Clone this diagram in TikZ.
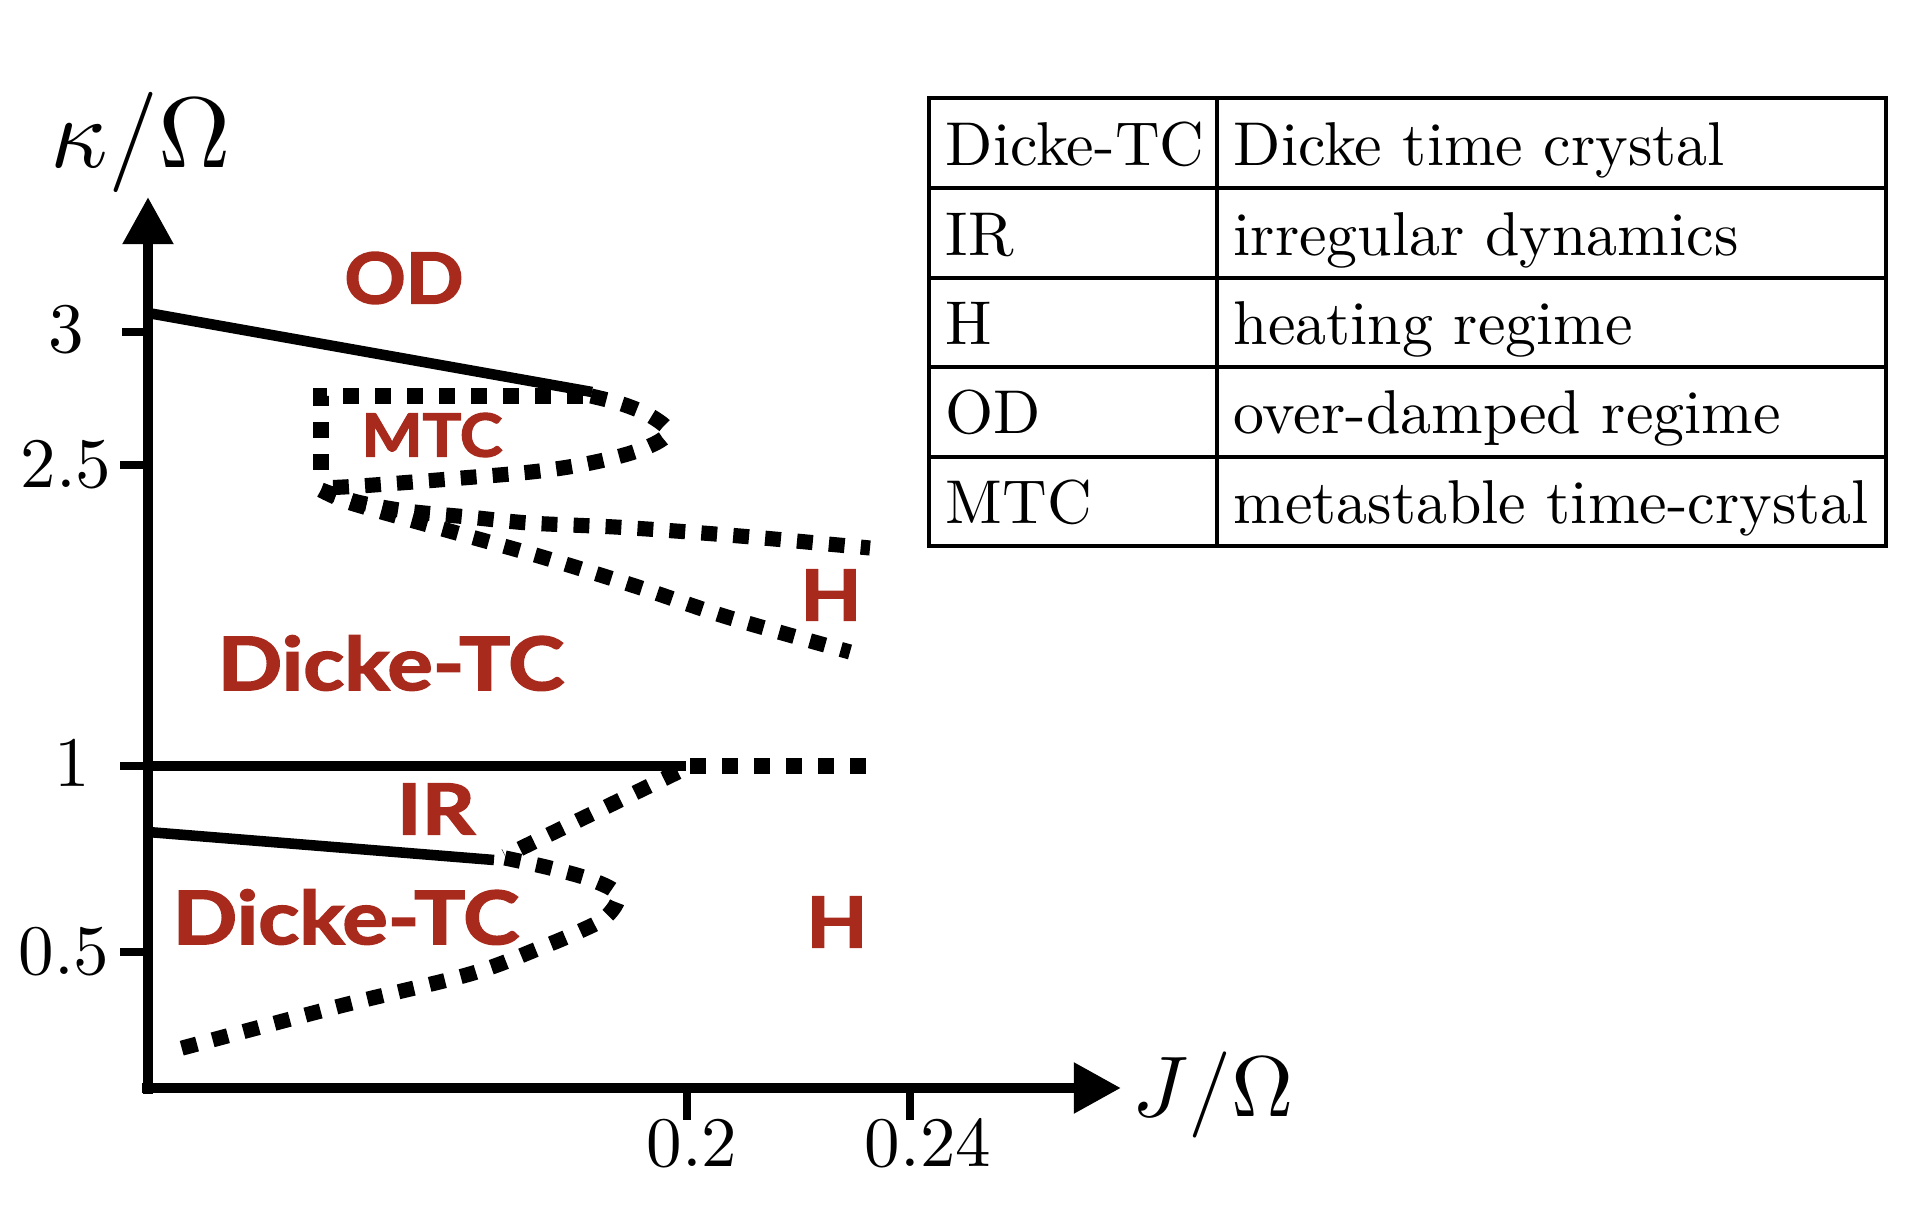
\RequirePackage{fix-cm}
\documentclass[tikz,border=0pt]{standalone}
\usepackage{fontspec}
\newfontfamily\labfont{Lato}[BoldFeatures={FakeBold=2}]
\newfontfamily\tenfont{lmroman10-regular}[Extension=.otf]
\usetikzlibrary{arrows.meta}
\definecolor{phred}{RGB}{168,42,29}
\tikzset{
  axisln/.style={line width=3.1pt,-{Triangle[length=13.4pt,width=13.7pt]}},
  tickln/.style={line width=2.4pt},
  solidb/.style={line width=3pt},
  dotln/.style={line width=4.3pt,dash pattern=on 4.5pt off 4.6pt},
  phase/.style={text=phred,font=\labfont\bfseries\fontsize{20}{24}\selectfont,inner sep=0pt},
  ticklab/.style={font=\fontsize{10}{12}\selectfont,inner sep=0pt},
  axlab/.style={font=\fontsize{10}{12}\selectfont,inner sep=0pt},
  tabtxt/.style={font=\tenfont\fontsize{10}{12}\selectfont,inner sep=0pt,anchor=base west},
  tabln/.style={line width=0.9pt}
}
\newcommand{\tabsc}[1]{\scalebox{1.76}{#1}}
\newcommand{\ticksc}[1]{\scalebox{2.02}{#1}}
\begin{document}
\begin{tikzpicture}[x=0.01cm,y=-0.01cm]
\useasboundingbox (0,0) rectangle (1930,1210);
% axes
\coordinate (origin) at (148,1094);
\coordinate (ytip) at (148,197);
\coordinate (xstart) at (142,1088);
\coordinate (xtip) at (1121,1088);
\draw[axisln] (origin) -- (ytip);
\draw[axisln] (xstart) -- (xtip);
% y ticks
\coordinate (t3a) at (122,332); \coordinate (t3b) at (148,332);
\coordinate (t25a) at (120,465); \coordinate (t25b) at (148,465);
\coordinate (t1a) at (120,766); \coordinate (t1b) at (148,766);
\coordinate (t05a) at (120,952); \coordinate (t05b) at (148,952);
\draw[tickln] (t3a) -- (t3b);
\draw[tickln] (t25a) -- (t25b);
\draw[tickln] (t1a) -- (t1b);
\draw[tickln] (t05a) -- (t05b);
% x ticks
\coordinate (x2a) at (687,1088); \coordinate (x2b) at (687,1120);
\coordinate (x24a) at (910,1088); \coordinate (x24b) at (910,1120);
\draw[tickln] (x2a) -- (x2b);
\draw[tickln] (x24a) -- (x24b);
% tick labels
\node[ticklab] (l3) at (66,330) {\ticksc{$3$}};
\node[ticklab] (l25) at (66,465) {\ticksc{$2.5$}};
\node[ticklab] (l1) at (72,764) {\ticksc{$1$}};
\node[ticklab] (l05) at (64,952) {\ticksc{$0.5$}};
\node[ticklab] (l02) at (692,1144) {\ticksc{$0.2$}};
\node[ticklab] (l024) at (928,1144) {\ticksc{$0.24$}};
% axis labels
\node[axlab] (ylab) at (141,142) {\scalebox{2.85}{$\kappa/\Omega$}};
\node[axlab] (xlab) at (1213,1095) {\scalebox{2.45}{$J/\Omega$}};
% solid boundaries
\coordinate (od1) at (148,313); \coordinate (od2) at (592,392);
\draw[solidb] (od1) -- (od2);
\coordinate (k1a) at (148,766); \coordinate (k1b) at (686,766);
\draw[solidb] (k1a) -- (k1b);
\coordinate (ir1) at (148,832); \coordinate (ir2) at (494,860);
\draw[solidb] (ir1) -- (ir2);
% dotted boundaries
\draw[dotln] (321,470) -- (321,396) -- (591,396);
\draw[dotln] plot[smooth,tension=0.6] coordinates {(591,396) (625,405) (654,418) (668,433) (645,448) (600,461) (540,471) (450,479) (360,486) (321,488)};
\draw[dotln] plot[smooth,tension=0.5] coordinates {(321,490) (357,502) (406,511) (468,517) (529,523) (615,527) (689,532) (763,538) (870,548)};
\draw[dotln] plot[smooth,tension=0.5] coordinates {(321,490) (351,503) (446,530) (542,557) (638,587) (727,617) (850,652)};
\draw[dotln] (690,766) -- (874,766);
\draw[dotln] (678,772) -- (505,856);
\draw[dotln] plot[smooth,tension=0.55] coordinates {(505,858) (550,868) (592,880) (618,895) (606,917) (578,932) (540,948) (470,974) (340,1006) (175,1050)};
% phase labels
\node[phase] (pOD) at (404,278) {\scalebox{1.08}[1]{OD}};
\node[phase,font=\labfont\bfseries\fontsize{17}{20}\selectfont] (pMTC) at (432,435) {\scalebox{1.08}[1]{MTC}};
\node[phase] (pH1) at (831,595) {\scalebox{1.12}[1]{H}};
\node[phase,font=\labfont\bfseries\fontsize{21}{25}\selectfont] (pTC1) at (391,663) {\scalebox{1.15}[1]{Dicke-TC}};
\node[phase] (pIR) at (436,809) {\scalebox{1.18}[1]{IR}};
\node[phase,font=\labfont\bfseries\fontsize{21}{25}\selectfont] (pTC2) at (346,917) {\scalebox{1.15}[1]{Dicke-TC}};
\node[phase] (pH2) at (837,922) {\scalebox{1.12}[1]{H}};
% table
\draw[tabln] (929,98) rectangle (1886,546);
\draw[tabln] (1217,98) -- (1217,546);
\draw[tabln] (929,188) -- (1886,188);
\draw[tabln] (929,278) -- (1886,278);
\draw[tabln] (929,367) -- (1886,367);
\draw[tabln] (929,457) -- (1886,457);
\node[tabtxt] (a1) at (945,166) {\tabsc{Dicke-TC}};
\node[tabtxt] (b1) at (1233,166) {\tabsc{Dicke time crystal}};
\node[tabtxt] (a2) at (945,256) {\tabsc{IR}};
\node[tabtxt] (b2) at (1233,256) {\tabsc{irregular dynamics}};
\node[tabtxt] (a3) at (945,345) {\tabsc{H}};
\node[tabtxt] (b3) at (1233,345) {\tabsc{heating regime}};
\node[tabtxt] (a4) at (945,434) {\tabsc{OD}};
\node[tabtxt] (b4) at (1233,434) {\tabsc{over-damped regime}};
\node[tabtxt] (a5) at (945,524) {\tabsc{MTC}};
\node[tabtxt] (b5) at (1233,524) {\tabsc{metastable time-crystal}};
\end{tikzpicture}
\end{document}
